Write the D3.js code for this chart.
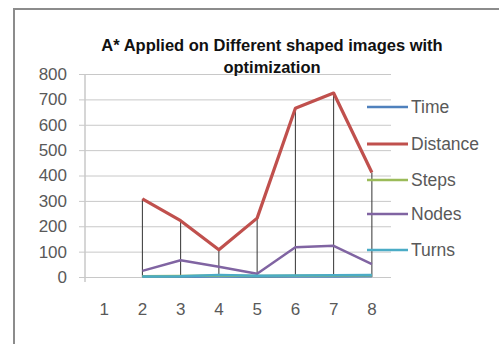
<!DOCTYPE html>
<html>
<head>
<meta charset="utf-8">
<script src="https://cdn.jsdelivr.net/npm/d3@7"></script>
<style>
  html, body { margin: 0; padding: 0; background: #fff; }
  svg { display: block; }
</style>
</head>
<body>
<svg id="chart" width="499" height="344"></svg>
<script>
// Image indices along the x axis
const categories = [1, 2, 3, 4, 5, 6, 7, 8];
// Measurements per image (null = no value recorded)
const timeValues     = [null, 1, 1, 2, 1, 2, 2, 3];
const distanceValues = [null, 308, 222, 107, 232, 665, 725, 412];
const stepsValues    = [null, 3, 4, 6, 4, 5, 6, 7];
const nodesValues    = [null, 24, 66, 40, 13, 117, 123, 51];
const turnsValues    = [null, 2, 3, 8, 5, 6, 7, 8];
const yTicks = [0, 100, 200, 300, 400, 500, 600, 700, 800];

const series = [
  { name: "Time",     values: timeValues,     color: "#4f81bd", width: 2.5 },
  { name: "Distance", values: distanceValues, color: "#c0504d", width: 3.2 },
  { name: "Steps",    values: stepsValues,    color: "#9bbb59", width: 2.5 },
  { name: "Nodes",    values: nodesValues,    color: "#8064a2", width: 2.5 },
  { name: "Turns",    values: turnsValues,    color: "#4bacc6", width: 2.5 }
];

const svg = d3.select("#chart");
const font = "'Liberation Sans', Arial, sans-serif";
const textColor = "#595959";

// Outer chart frame
svg.append("rect")
  .attr("x", 14).attr("y", 9)
  .attr("width", 520).attr("height", 360)
  .attr("fill", "#fff")
  .attr("stroke", "#8c8c8c").attr("stroke-width", 2);

const x = d3.scaleBand().domain(categories).range([85, 391]);
const y = d3.scaleLinear().domain([0, 800]).range([277, 74]);
const cx = c => x(c) + x.bandwidth() / 2;

// Horizontal gridlines with short ticks to the left of the axis
svg.append("g")
  .attr("transform", "translate(85,0)")
  .call(d3.axisLeft(y).tickValues(yTicks).tickSize(-306).tickSizeOuter(0).tickPadding(18))
  .call(g => g.select(".domain").remove())
  .call(g => g.selectAll(".tick line").attr("x1", -6).attr("stroke", "#c8c8c8"))
  .call(g => g.selectAll(".tick text")
    .attr("fill", textColor).attr("font-family", font).attr("font-size", 17));

// Vertical axis line
svg.append("line")
  .attr("x1", 85).attr("x2", 85)
  .attr("y1", y(800)).attr("y2", y(0) + 5)
  .attr("stroke", "#c8c8c8").attr("stroke-width", 1.5);

// Category labels
svg.append("g")
  .attr("transform", `translate(0,${y(0)})`)
  .call(d3.axisBottom(x).tickSize(0).tickPadding(25))
  .call(g => g.select(".domain").remove())
  .call(g => g.selectAll(".tick text")
    .attr("y", 32).attr("dy", "0.35em")
    .attr("fill", textColor).attr("font-family", font).attr("font-size", 17));

// Drop lines from the highest point of each category down to zero
categories.forEach((c, i) => {
  const vals = series.map(s => s.values[i]).filter(v => v != null);
  if (!vals.length) return;
  svg.append("line")
    .attr("x1", cx(c)).attr("x2", cx(c))
    .attr("y1", y(d3.max(vals))).attr("y2", y(0))
    .attr("stroke", "#333").attr("stroke-width", 1);
});

// Series lines
const line = d3.line()
  .defined(d => d.v != null)
  .x(d => cx(d.c))
  .y(d => y(d.v));

series.forEach(s => {
  svg.append("path")
    .datum(categories.map((c, i) => ({ c, v: s.values[i] })))
    .attr("fill", "none")
    .attr("stroke", s.color)
    .attr("stroke-width", s.width)
    .attr("stroke-linejoin", "round")
    .attr("d", line);
});

// Legend
const legendY = [107, 144, 180, 214, 250];
series.forEach((s, i) => {
  svg.append("line")
    .attr("x1", 367).attr("x2", 408)
    .attr("y1", legendY[i]).attr("y2", legendY[i])
    .attr("stroke", s.color).attr("stroke-width", s.width);
  svg.append("text")
    .attr("x", 411).attr("y", legendY[i])
    .attr("dy", "0.35em")
    .attr("fill", textColor)
    .attr("font-family", font).attr("font-size", 17.5)
    .text(s.name);
});

// Title
const title = svg.append("text")
  .attr("text-anchor", "middle")
  .attr("font-family", font).attr("font-size", 16.5).attr("font-weight", "bold")
  .attr("fill", "#111");
title.append("tspan").attr("x", 272).attr("y", 51).text("A* Applied on Different shaped images with");
title.append("tspan").attr("x", 272).attr("y", 73).text("optimization");
</script>
</body>
</html>
